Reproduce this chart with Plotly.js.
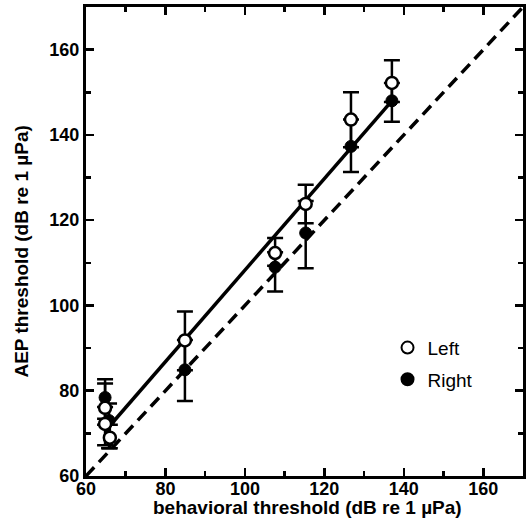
<!DOCTYPE html>
<html>
<head>
<meta charset="utf-8">
<script src="https://cdn.plot.ly/plotly-3.0.1.min.js"></script>
<style>html,body{margin:0;padding:0;background:#fff;}#chart{width:532px;height:518px;}</style>
</head>
<body>
<div id="chart"></div>
<script>
// Left ear (open circles)
var leftX = [64.8, 64.8, 66, 84.9, 107.6, 115.3, 126.7, 137];
var leftY = [76, 72.2, 69, 91.8, 112.3, 123.8, 143.6, 152.2];
var leftErrPlus = [5.7, 4, 3, 6.8, 3.5, 4.5, 6.4, 5.3];
var leftErrMinus = [4, 5, 2.5, 7, 3, 4.5, 6.5, 4.5];
// Right ear (filled circles)
var rightX = [64.8, 65.8, 84.9, 107.6, 115.3, 126.7, 137];
var rightY = [78.4, 73, 84.9, 109, 117, 137.3, 148];
var rightErrPlus = [4.3, 4, 7, 3.5, 7.5, 6.3, 4.2];
var rightErrMinus = [5, 6.5, 7.3, 5.7, 8.3, 6, 4.9];
// regression fit line and equality line
var fitX = [64.8, 137];
var fitY = [70.5, 148];
var unityX = [60, 170];
var unityY = [60, 170];
// tick labels
var tickVals = [60, 80, 100, 120, 140, 160];
var tickText = ['60', '80', '100', '120', '140', '160'];

var FONT = 'Liberation Sans, Arial, sans-serif';

var traces = [
  {x: unityX, y: unityY, mode: 'lines', line: {color: '#000', width: 3.5, dash: '12px,7px'}, showlegend: false, hoverinfo: 'skip'},
  {x: fitX, y: fitY, mode: 'lines', line: {color: '#000', width: 3.5}, showlegend: false, hoverinfo: 'skip'},
  {x: rightX, y: rightY, mode: 'markers', name: 'Right', type: 'scatter', legendgroup: 'R', legendrank: 2,
   marker: {symbol: 'circle', size: 12, color: '#000', line: {color: '#000', width: 1}},
   error_y: {type: 'data', symmetric: false, array: rightErrPlus, arrayminus: rightErrMinus, color: '#000', thickness: 2.5, width: 8}},
  {x: leftX, y: leftY, mode: 'markers', name: 'Left', type: 'scatter', legendgroup: 'L', legendrank: 1,
   marker: {symbol: 'circle', size: 12, color: '#fff', line: {color: '#000', width: 2.5}},
   error_y: {type: 'data', symmetric: false, array: leftErrPlus, arrayminus: leftErrMinus, color: '#000', thickness: 2.5, width: 8}}
];

var axisCommon = {
  range: [60, 170], tickmode: 'array', tickvals: tickVals,
  ticktext: tickText.map(function (t) { return '<b>' + t + '</b>'; }),
  ticks: 'inside', ticklen: 8, tickwidth: 2.5, tickcolor: '#000',
  showline: true, linewidth: 3, linecolor: '#000', mirror: 'ticks', showgrid: false, zeroline: false,
  minor: {dtick: 10, tick0: 60, ticks: 'inside', ticklen: 5, tickwidth: 2.5, tickcolor: '#000', showgrid: false},
  tickfont: {family: FONT, size: 18, color: '#000'}
};

var layout = {
  width: 532, height: 518,
  margin: {l: 86, r: 9, t: 7, b: 42},
  paper_bgcolor: '#fff', plot_bgcolor: '#fff',
  showlegend: true,
  legend: {x: 0.69, y: 0.314, xanchor: 'left', yanchor: 'top', traceorder: 'grouped',
           font: {family: FONT, size: 19, color: '#000'},
           bgcolor: 'rgba(0,0,0,0)', itemsizing: 'constant', tracegroupgap: 4},
  xaxis: Object.assign({}, axisCommon, {ticklabelstandoff: -6}),
  yaxis: Object.assign({}, axisCommon),
  annotations: [
    {text: '<b>behavioral threshold (dB re 1 µPa)</b>', xref: 'paper', yref: 'paper', x: 0.508, y: -0.067,
     xanchor: 'center', yanchor: 'middle', showarrow: false, font: {family: FONT, size: 19, color: '#000'}},
    {text: '<b>AEP threshold (dB re 1 µPa)</b>', xref: 'paper', yref: 'paper', x: -0.147, y: 0.478,
     xanchor: 'center', yanchor: 'middle', textangle: -90, showarrow: false, font: {family: FONT, size: 19, color: '#000'}}
  ]
};

Plotly.newPlot('chart', traces, layout, {displayModeBar: false, staticPlot: true});
</script>
</body>
</html>
